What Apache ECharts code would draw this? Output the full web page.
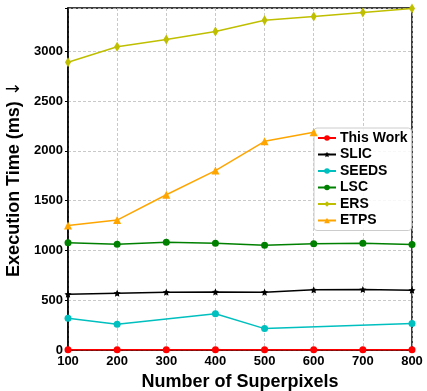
<!DOCTYPE html>
<html><head><meta charset="utf-8">
<script src="https://cdn.jsdelivr.net/npm/echarts@6/dist/echarts.min.js"></script>
<style>html,body{margin:0;padding:0;background:#fff}#c{width:427px;height:391px}</style>
</head><body><div id="c"></div>
<script>
const superpixels = [100, 200, 300, 400, 500, 600, 700, 800];
const thisWork = [3, 3, 3, 3, 3, 3, 3, 3];
const slic = [560, 570, 580, 583, 580, 604, 607, 600];
const seeds = [319, 258, null, 365, 215, null, null, 265];
const lsc = [1076, 1063, 1083, 1073, 1053, 1066, 1073, 1059];
const ers = [2890, 3045, 3119, 3199, 3313, 3350, 3390, 3430];
const etps = [1250, 1305, 1559, 1802, 2096, 2186, null, null];
const yTicks = [0, 500, 1000, 1500, 2000, 2500, 3000];

const pairs = arr => superpixels.map((x, i) => [x, arr[i]]);
const font = 'Liberation Sans, Arial, sans-serif';
const thinDiamond = 'path://M0,-10L6,0L0,10L-6,0Z';
const plusFilled = 'circle';

function mk(name, data, color, symbol, size) {
  return {
    name, type: 'line', data: pairs(data), connectNulls: true,
    symbol, symbolSize: size, showAllSymbol: true,
    lineStyle: { color, width: 1.5 },
    itemStyle: { color, borderWidth: 0 },
    z: 5, clip: false
  };
}

const chart = echarts.init(document.getElementById('c'));
chart.setOption({
  animation: false,
  grid: { left: 68, right: 15, top: 8, bottom: 41, outerBoundsMode: 'none', containLabel: false,
    show: true, borderColor: '#000', borderWidth: 1.5, backgroundColor: 'transparent' },
  xAxis: {
    type: 'value', min: 100, max: 800, interval: 100,
    name: 'Number of Superpixels', nameLocation: 'middle', nameGap: 21,
    nameTextStyle: { fontFamily: font, fontWeight: 'bold', fontSize: 18, color: '#000' },
    axisLine: { show: true, lineStyle: { color: '#000', width: 1.5 } },
    axisTick: { show: true, length: 3, inside: false, lineStyle: { color: '#000' } },
    axisLabel: { fontFamily: font, fontWeight: 'bold', fontSize: 13, color: '#000', margin: 5 },
    splitLine: { show: true, lineStyle: { color: '#bbb', type: [3, 2], width: 0.8 } }
  },
  yAxis: {
    type: 'value', min: 0, max: 3435, interval: 500,
    name: 'Execution Time (ms) {a|↓}', nameLocation: 'middle', nameGap: 37,
    nameTextStyle: { fontFamily: font, fontWeight: 'bold', fontSize: 18, color: '#000',
      rich: { a: { fontFamily: 'DejaVu Sans', fontWeight: 'normal', fontSize: 18, color: '#000' } } },
    axisLine: { show: true, lineStyle: { color: '#000', width: 1.5 } },
    axisTick: { show: true, length: 3, lineStyle: { color: '#000' } },
    axisLabel: { fontFamily: font, fontWeight: 'bold', fontSize: 13, color: '#000', margin: 5,
      formatter: v => yTicks.includes(v) ? String(v) : '' },
    splitLine: { show: true, lineStyle: { color: '#bbb', type: [3, 2], width: 0.8 } }
  },
  legend: {
    orient: 'vertical', left: 314, top: 128,
    itemWidth: 18, itemHeight: 7, itemGap: 2.5,
    padding: [3, 4, 3, 3],
    backgroundColor: 'rgba(255,255,255,0.85)', borderColor: '#ccc', borderWidth: 1, borderRadius: 3,
    textStyle: { fontFamily: font, fontWeight: 'bold', fontSize: 14, color: '#000', lineHeight: 14, padding: [0, 0, 0, -1] },
    data: ['This Work', 'SLIC', 'SEEDS', 'LSC', 'ERS', 'ETPS']
  },
  series: [
    mk('ERS', ers, '#bfbf00', thinDiamond, [6, 10]),
    mk('ETPS', etps, '#ffa500', 'triangle', 8),
    mk('LSC', lsc, '#008000', plusFilled, 7),
    mk('SLIC', slic, '#000000', 'path://M0,-10L2.9,-4L9.5,-3.1L4.7,1.5L5.9,8.1L0,5L-5.9,8.1L-4.7,1.5L-9.5,-3.1L-2.9,-4Z', 7),
    mk('SEEDS', seeds, '#00bfbf', 'circle', 7),
    mk('This Work', thisWork, '#ff0000', 'circle', 7)
  ]
});
</script></body></html>
